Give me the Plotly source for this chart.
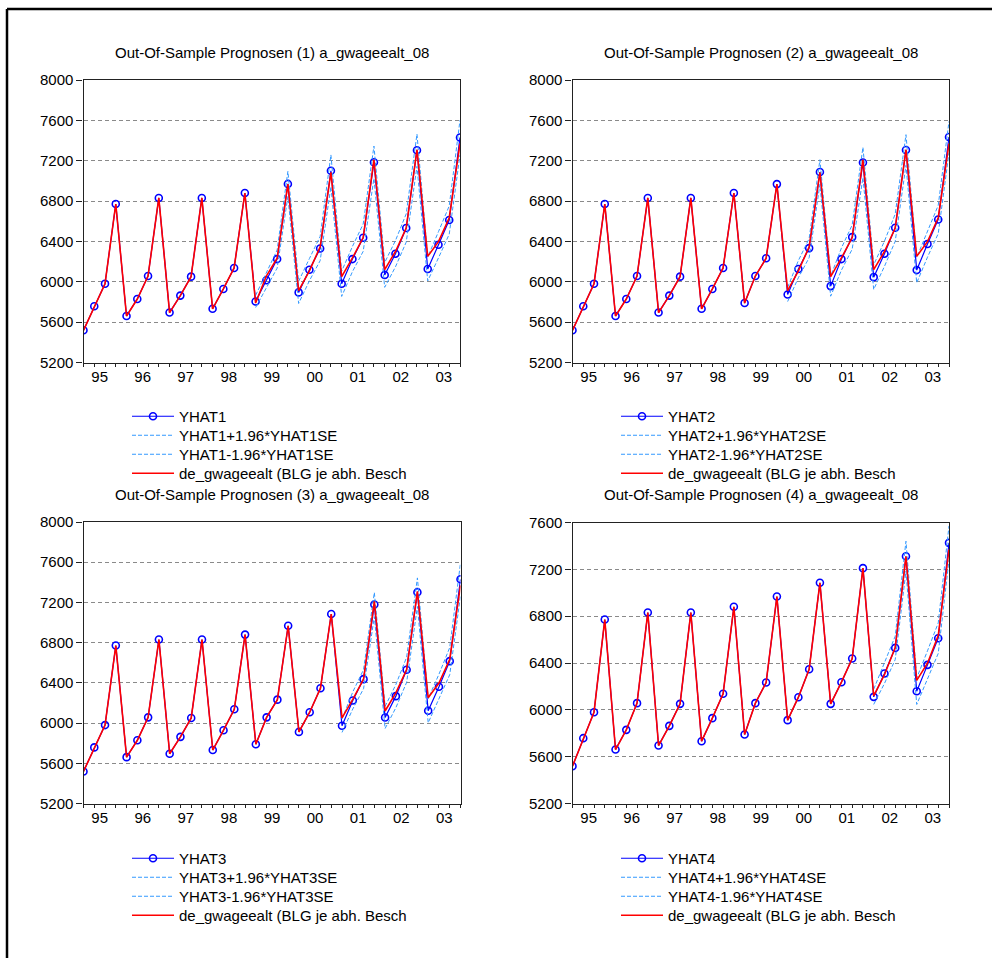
import plotly.graph_objects as go

# ---------------- data ----------------
years = [1995, 1996, 1997, 1998, 1999, 2000, 2001, 2002, 2003]
year_labels = ["95", "96", "97", "98", "99", "00", "01", "02", "03"]
quarters = [y + q * 0.25 for y in years for q in range(4)]  # 1995Q1 .. 2003Q4

actual = [5519, 5758, 5980, 6771,
          5661, 5829, 6057, 6831,
          5695, 5863, 6051, 6831,
          5732, 5929, 6137, 6880,
          5789, 6057, 6233, 6968,
          5912, 6108, 6347, 7085,
          6051, 6236, 6438, 7210,
          6120, 6300, 6532, 7310,
          6252, 6398, 6635, 7370]

# forecast starts (index into quarters)
start1, start2, start3, start4 = 16, 20, 24, 28

yhat1_fc = [5805, 6015, 6225, 6970, 5895, 6120, 6330, 7100, 5980, 6225,
            6437, 7185, 6068, 6278, 6533, 7304, 6127, 6367, 6612, 7430]
upper1 = [5865, 6095, 6315, 7095, 6005, 6230, 6450, 7257, 6105, 6350,
          6572, 7345, 6191, 6408, 6673, 7464, 6245, 6497, 6752, 7602]
lower1 = [5745, 5935, 6135, 6845, 5785, 6010, 6210, 6943, 5855, 6100,
          6302, 7025, 5945, 6148, 6393, 7144, 6009, 6237, 6472, 7258]

yhat2_fc = [5874, 6126, 6334, 7088, 5957, 6225, 6443, 7183,
            6046, 6278, 6536, 7306, 6116, 6374, 6618, 7435]
upper2 = [5944, 6211, 6429, 7210, 6057, 6335, 6563, 7333,
          6168, 6403, 6671, 7458, 6242, 6504, 6758, 7590]
lower2 = [5804, 6041, 6239, 6966, 5857, 6115, 6323, 7033,
          5924, 6153, 6401, 7154, 5990, 6244, 6478, 7280]

yhat3_fc = [5974, 6225, 6437, 7179, 6056, 6268, 6530, 7302, 6123, 6361, 6616, 7430]
upper3 = [6041, 6310, 6532, 7299, 6166, 6383, 6655, 7444, 6243, 6486, 6751, 7593]
lower3 = [5907, 6140, 6342, 7059, 5946, 6153, 6405, 7160, 6003, 6236, 6481, 7267]

yhat4_fc = [6111, 6310, 6529, 7312, 6159, 6384, 6612, 7426]
upper4 = [6176, 6395, 6629, 7440, 6272, 6504, 6742, 7571]
lower4 = [6046, 6225, 6429, 7184, 6046, 6264, 6482, 7281]

panel_titles = ["Out-Of-Sample Prognosen (1) a_gwageealt_08",
                "Out-Of-Sample Prognosen (2) a_gwageealt_08",
                "Out-Of-Sample Prognosen (3) a_gwageealt_08",
                "Out-Of-Sample Prognosen (4) a_gwageealt_08"]
actual_name = "de_gwageealt (BLG je abh. Besch"
y_ranges = [(5200, 8000), (5200, 8000), (5200, 8000), (5200, 7600)]

# ---------------- layout geometry ----------------
W, H = 992, 958
FONT = "Arial, Liberation Sans, sans-serif"
FS = 15
panels_px = [  # x0, x1, ytop, ybottom  (pixels)
    (83.5, 460.0, 80.0, 362.5),
    (572.5, 949.0, 80.0, 362.5),
    (83.5, 460.5, 522.0, 803.5),
    (572.5, 949.0, 522.5, 803.5),
]
legend_px = [(127, 416.5), (616, 416.5), (127, 858.5), (616, 858.5)]  # x, first row centre
ROW = 19

fig = go.Figure()

panels = [
    (start1, yhat1_fc, upper1, lower1),
    (start2, yhat2_fc, upper2, lower2),
    (start3, yhat3_fc, upper3, lower3),
    (start4, yhat4_fc, upper4, lower4),
]


def lgname(k):
    return "legend" if k == 1 else f"legend{k}"


for i, (st, fc, up, lo) in enumerate(panels):
    n = i + 1
    xa = "x" if n == 1 else f"x{n}"
    ya = "y" if n == 1 else f"y{n}"
    base = i * 4
    yhat = actual[:st] + fc
    xf = quarters[st:]
    fig.add_trace(go.Scatter(
        x=quarters, y=yhat, mode="lines+markers", name=f"YHAT{n}",
        line=dict(color="#0000FF", width=1.2),
        marker=dict(symbol="circle-open", size=7, color="#0000FF", line=dict(width=1.6)),
        xaxis=xa, yaxis=ya, legend=lgname(base + 1)))
    fig.add_trace(go.Scatter(
        x=xf, y=up, mode="lines", name=f"YHAT{n}+1.96*YHAT{n}SE",
        line=dict(color="#3399FF", width=1, dash="4px,2px"),
        xaxis=xa, yaxis=ya, legend=lgname(base + 2)))
    fig.add_trace(go.Scatter(
        x=xf, y=lo, mode="lines", name=f"YHAT{n}-1.96*YHAT{n}SE",
        line=dict(color="#3399FF", width=1, dash="4px,2px"),
        xaxis=xa, yaxis=ya, legend=lgname(base + 3)))
    fig.add_trace(go.Scatter(
        x=quarters, y=actual, mode="lines", name=actual_name,
        line=dict(color="#FF0000", width=1.6),
        xaxis=xa, yaxis=ya, legend=lgname(base + 4)))

layout = dict(
    width=W, height=H, autosize=False,
    margin=dict(l=0, r=0, t=0, b=0, autoexpand=False),
    paper_bgcolor="white", plot_bgcolor="white",
    font=dict(family=FONT, size=FS, color="black"),
    showlegend=True,
)

xrange_ = [quarters[0], quarters[-1]]
annotations = []
for i, (x0, x1, yt, yb) in enumerate(panels_px):
    n = i + 1
    sfx = "" if n == 1 else str(n)
    dom_x = [x0 / W, x1 / W]
    dom_y = [1 - yb / H, 1 - yt / H]
    layout[f"xaxis{sfx}"] = dict(
        domain=dom_x, anchor=f"y{sfx}", range=xrange_,
        tickmode="array", tickvals=[y + 0.375 for y in years], ticktext=year_labels,
        ticks="", showgrid=False, zeroline=False,
        showline=True, mirror=True, linecolor="#222222", linewidth=1.2,
        tickfont=dict(size=FS), automargin=False,
        minor=dict(tickmode="array", tickvals=quarters, ticks="outside",
                   ticklen=3.5, tickcolor="#222222", tickwidth=1, showgrid=False),
    )
    layout[f"xaxis{n + 4}"] = dict(
        domain=dom_x, anchor=f"y{sfx}", overlaying=f"x{sfx}", range=xrange_,
        tickmode="array", tickvals=years, ticks="outside", ticklen=7,
        tickcolor="#222222", tickwidth=1.2, showticklabels=False,
        showgrid=False, zeroline=False, showline=False, automargin=False,
    )
    ylo, yhi = y_ranges[i]
    layout[f"yaxis{sfx}"] = dict(
        domain=dom_y, anchor=f"x{sfx}", range=[ylo, yhi],
        tick0=ylo, dtick=400, ticks="outside", ticklen=6, tickcolor="#222222",
        showgrid=True, gridcolor="#8a8a8a", gridwidth=1, griddash="4px,3px",
        zeroline=False, showline=True, mirror=True, linecolor="#222222", linewidth=1.2,
        tickfont=dict(size=FS), automargin=False,
    )
    annotations.append(dict(
        text=panel_titles[i], x=(x0 + x1) / 2 / W, y=1 - (yt - 28) / H,
        xref="paper", yref="paper", xanchor="center", yanchor="middle",
        showarrow=False, font=dict(size=FS, color="black")))
    lx, ly = legend_px[i]
    for r in range(4):
        layout[lgname(i * 4 + r + 1)] = dict(
            x=lx / W, y=1 - (ly + r * ROW) / H, xanchor="left", yanchor="middle",
            bgcolor="rgba(0,0,0,0)", borderwidth=0, font=dict(size=FS),
            tracegroupgap=0, itemwidth=42,
        )

layout["annotations"] = annotations
layout["shapes"] = [
    dict(type="line", xref="paper", yref="paper", x0=7 / W, x1=1, y0=1 - 9 / H, y1=1 - 9 / H,
         line=dict(color="black", width=2.5)),
    dict(type="line", xref="paper", yref="paper", x0=7 / W, x1=7 / W, y0=0, y1=1 - 9 / H,
         line=dict(color="black", width=2.5)),
]

fig.update_layout(**layout)
fig.write_html(
    "out.html",
    config={"displayModeBar": False, "responsive": False},
    post_script="document.body.style.margin='0';document.body.style.overflow='hidden';",
)
